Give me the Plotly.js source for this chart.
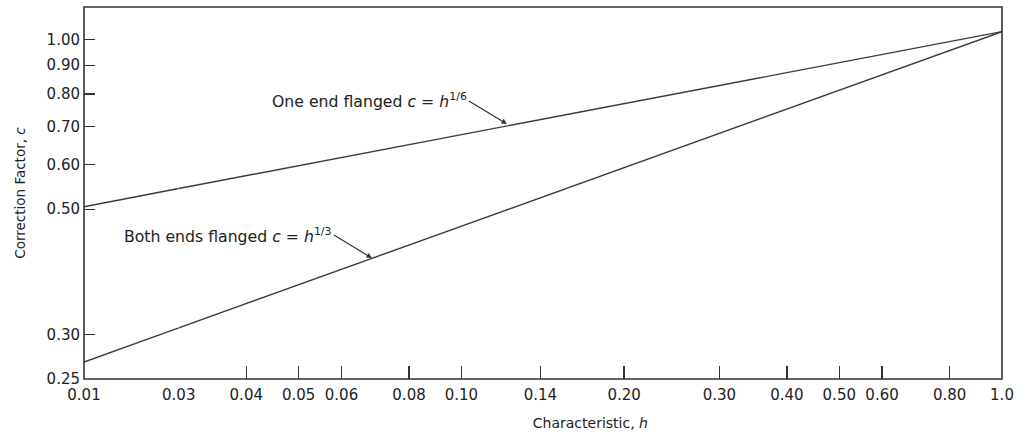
<!DOCTYPE html>
<html>
<head>
<meta charset="utf-8">
<script src="https://cdn.plot.ly/plotly-3.0.1.min.js"></script>
<style>
  html, body { margin: 0; padding: 0; background: #ffffff; }
  #chart { width: 1021px; height: 440px; }
</style>
</head>
<body>
<div id="chart"></div>
<script>
// Data (characteristic h vs correction factor c)
const hPoints = [0.01, 0.03, 1.0];
const cOneEnd = [0.505, 0.544, 1.032];     // One end flanged, c = h^(1/6)
const cBothEnds = [0.268, 0.308, 1.032];   // Both ends flanged, c = h^(1/3)

const xTickVals = [0.01, 0.03, 0.04, 0.05, 0.06, 0.08, 0.10, 0.14, 0.20, 0.30, 0.40, 0.50, 0.60, 0.80, 1.0];
const xTickText = ["0.01", "0.03", "0.04", "0.05", "0.06", "0.08", "0.10", "0.14", "0.20", "0.30", "0.40", "0.50", "0.60", "0.80", "1.0"];
const yTickVals = [0.25, 0.30, 0.50, 0.60, 0.70, 0.80, 0.90, 1.00];
const yTickText = ["0.25", "0.30", "0.50", "0.60", "0.70", "0.80", "0.90", "1.00"];

// The reference x axis is broken: 0.01-0.03 compressed, 0.03-1.0 logarithmic
const hBreak = xTickVals[1];

function segment(xs, ys, lo, hi) {
  const px = [], py = [];
  xs.forEach((x, i) => { if (x >= lo && x <= hi) { px.push(x); py.push(ys[i]); } });
  return { x: px, y: py };
}

const lineStyle = { color: '#3a3a3a', width: 1.4 };
const traces = [];
[[cOneEnd, 'One end flanged'], [cBothEnds, 'Both ends flanged']].forEach(([ys, name]) => {
  const a = segment(hPoints, ys, hPoints[0], hBreak);
  const b = segment(hPoints, ys, hBreak, hPoints[hPoints.length - 1]);
  traces.push({ x: a.x, y: a.y, xaxis: 'x2', yaxis: 'y', mode: 'lines', line: lineStyle, name: name, hoverinfo: 'x+y' });
  traces.push({ x: b.x, y: b.y, xaxis: 'x', yaxis: 'y', mode: 'lines', line: lineStyle, name: name, hoverinfo: 'x+y' });
});

const FONT = 'DejaVu Sans, Arial, sans-serif';
const txt = '#222222';
const splitFrac = 0.1032;

const small = xTickVals.filter(v => v <= hBreak * 0.999);
const big = xTickVals.filter(v => v >= hBreak * 0.999);

const tickFont = { family: FONT, size: 15, color: txt };
const L = Math.log10;

const layout = {
  width: 1021, height: 440,
  margin: { l: 84, r: 19, t: 7, b: 61 },
  paper_bgcolor: '#ffffff', plot_bgcolor: '#ffffff',
  showlegend: false,
  font: { family: FONT, size: 14, color: txt },
  xaxis2: {
    type: 'log', domain: [0, splitFrac], anchor: 'y',
    range: [L(hPoints[0]), L(hBreak)],
    tickmode: 'array', tickvals: small, ticktext: small.map(v => xTickText[xTickVals.indexOf(v)]),
    ticks: 'inside', ticklen: 13, tickwidth: 1.3, tickcolor: '#333',
    showgrid: false, zeroline: false, showline: false,
    tickfont: tickFont, ticklabelstandoff: 5
  },
  xaxis: {
    type: 'log', domain: [splitFrac, 1], anchor: 'y',
    range: [L(hBreak), L(hPoints[hPoints.length - 1])],
    tickmode: 'array', tickvals: big, ticktext: big.map(v => xTickText[xTickVals.indexOf(v)]),
    ticks: 'inside', ticklen: 13, tickwidth: 1.3, tickcolor: '#333',
    showgrid: false, zeroline: false, showline: false,
    tickfont: tickFont, ticklabelstandoff: 5,
    title: { text: 'Characteristic, <i>h</i>', font: { family: FONT, size: 14, color: txt }, standoff: 15 }
  },
  yaxis: {
    type: 'log', anchor: 'x2',
    range: [L(yTickVals[0]), 0.0574],
    tickmode: 'array', tickvals: yTickVals, ticktext: yTickText,
    ticks: 'inside', ticklen: 11, tickwidth: 1.3, tickcolor: '#333',
    showgrid: false, zeroline: false, showline: false,
    tickfont: tickFont, ticklabelstandoff: 3,
    title: { text: 'Correction Factor, <i>c</i>', font: { family: FONT, size: 13.5, color: txt }, standoff: 17 }
  },
  shapes: [{
    type: 'rect', xref: 'paper', yref: 'paper', x0: 0, x1: 1, y0: 0, y1: 1,
    line: { color: '#333', width: 1.6 }, fillcolor: 'rgba(0,0,0,0)', layer: 'above'
  }],
  annotations: [
    { xref: 'x', yref: 'y', x: L(0.1214), y: L(0.708), ax: -38, ay: -23,
      xanchor: 'right', yanchor: 'middle',
      text: 'One end flanged <i>c</i> = <i>h</i><sup>1/6</sup>', showarrow: true,
      arrowhead: 2, arrowsize: 0.9, arrowwidth: 1.2, arrowcolor: '#333',
      font: { family: FONT, size: 15.7, color: txt } },
    { xref: 'x', yref: 'y', x: L(0.0683), y: L(0.4096), ax: -38, ay: -23,
      xanchor: 'right', yanchor: 'middle',
      text: 'Both ends flanged <i>c</i> = <i>h</i><sup>1/3</sup>', showarrow: true,
      arrowhead: 2, arrowsize: 0.9, arrowwidth: 1.2, arrowcolor: '#333',
      font: { family: FONT, size: 15.7, color: txt } }
  ]
};

Plotly.newPlot('chart', traces, layout, { displayModeBar: false, staticPlot: true });
</script>
</body>
</html>
